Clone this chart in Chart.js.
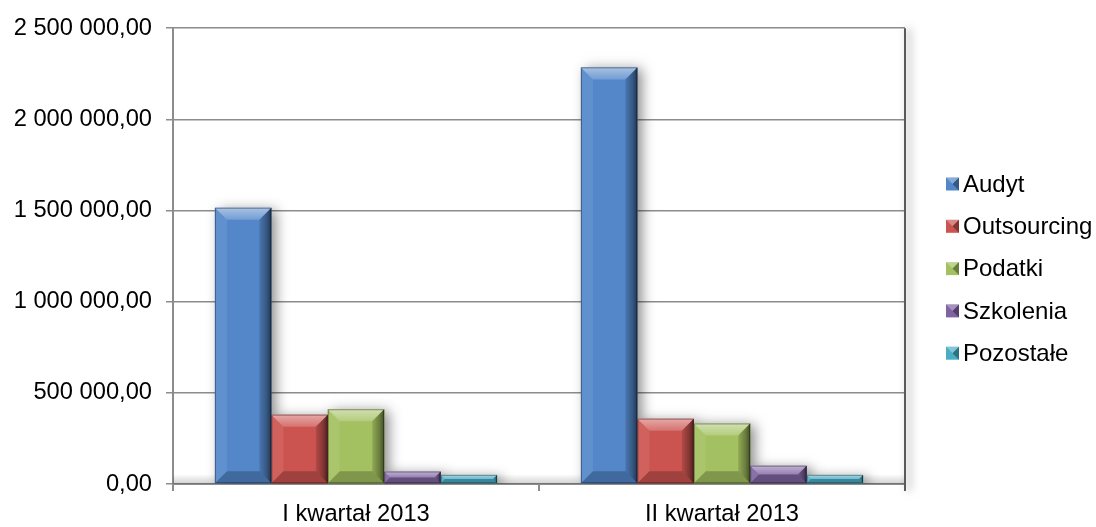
<!DOCTYPE html>
<html>
<head>
<meta charset="utf-8">
<script src="https://cdn.jsdelivr.net/npm/chart.js@4/dist/chart.umd.min.js"></script>
<style>
  html, body { margin: 0; padding: 0; background: #ffffff; }
  #wrap { width: 1096px; height: 527px; }
</style>
</head>
<body>
<div id="wrap"><canvas id="c" width="1096" height="527"></canvas></div>
<script>
// ---- data ----
const categories = ['I kwartał 2013', 'II kwartał 2013'];
const seriesNames = ['Audyt', 'Outsourcing', 'Podatki', 'Szkolenia', 'Pozostałe'];
const audyt       = [1515000, 2285000];
const outsourcing = [380000, 358000];
const podatki     = [410000, 332000];
const szkolenia   = [68000, 100000];
const pozostale   = [50000, 50000];
const yTicks      = [0, 500000, 1000000, 1500000, 2000000, 2500000];

// ---- styles ----
const seriesColors = ['#5387C9', '#CC5450', '#A3C160', '#8064A2', '#4BACC6'];
const FONT = '"Liberation Sans", Arial, sans-serif';
const FS_Y = 23.7;
const FS_X = 23.7;
const FS_LEG = 24;
const GRID = '#8c8c8c';

function formatPL(v) {
  const s = Math.round(v).toString().replace(/\B(?=(\d{3})+(?!\d))/g, ' ');
  return s + ',00';
}

const seriesData = [audyt, outsourcing, podatki, szkolenia, pozostale];

const shadowPlugin = {
  id: 'barShadow',
  beforeDatasetsDraw(chart) {
    const ctx = chart.ctx;
    const a = chart.chartArea;
    ctx.save();
    ctx.beginPath();
    ctx.rect(a.left, a.top, a.right - a.left + 20, a.bottom - a.top);
    ctx.clip();
    // floor shading
    const g = ctx.createLinearGradient(0, a.bottom - 10, 0, a.bottom);
    g.addColorStop(0, 'rgba(0,0,0,0)');
    g.addColorStop(1, 'rgba(0,0,0,0.18)');
    ctx.fillStyle = g;
    ctx.fillRect(a.left, a.bottom - 10, a.right - a.left, 10);
    chart.data.datasets.forEach((ds, di) => {
      const meta = chart.getDatasetMeta(di);
      meta.data.forEach(el => {
        const p = el.getProps(['x', 'y', 'base', 'width'], true);
        const L = p.x - p.width / 2, T = p.y, B = p.base;
        ctx.shadowColor = 'rgba(0,0,0,0.45)';
        ctx.shadowBlur = 12;
        ctx.shadowOffsetX = 5;
        ctx.shadowOffsetY = 2;
        ctx.fillStyle = ds.backgroundColor;
        ctx.fillRect(L, T, p.width, B - T);
      });
    });
    ctx.restore();
  },
  afterDatasetsDraw(chart) {
    const ctx = chart.ctx;
    ctx.save();
    chart.data.datasets.forEach((ds, di) => {
      const meta = chart.getDatasetMeta(di);
      meta.data.forEach(el => {
        const p = el.getProps(['x', 'y', 'base', 'width'], true);
        const L = p.x - p.width / 2, R = p.x + p.width / 2, T = p.y, B = p.base;
        const h = B - T;
        const b = Math.min(12, h / 2, p.width / 2);
        // top bevel (light)
        let g = ctx.createLinearGradient(0, T, 0, T + b);
        g.addColorStop(0, 'rgba(255,255,255,0.5)');
        g.addColorStop(1, 'rgba(255,255,255,0.18)');
        ctx.fillStyle = g;
        ctx.beginPath();
        ctx.moveTo(L, T); ctx.lineTo(R, T); ctx.lineTo(R - b, T + b); ctx.lineTo(L + b, T + b); ctx.closePath();
        ctx.fill();
        // left bevel (slightly light)
        ctx.fillStyle = 'rgba(255,255,255,0.08)';
        ctx.beginPath();
        ctx.moveTo(L, T); ctx.lineTo(L + b, T + b); ctx.lineTo(L + b, B - b); ctx.lineTo(L, B); ctx.closePath();
        ctx.fill();
        // right bevel (dark)
        g = ctx.createLinearGradient(R - b, 0, R, 0);
        g.addColorStop(0, 'rgba(0,0,0,0.12)');
        g.addColorStop(0.6, 'rgba(0,0,0,0.35)');
        g.addColorStop(1, 'rgba(0,0,0,0.6)');
        ctx.fillStyle = g;
        ctx.beginPath();
        ctx.moveTo(R, T); ctx.lineTo(R, B); ctx.lineTo(R - b, B - b); ctx.lineTo(R - b, T + b); ctx.closePath();
        ctx.fill();
        // bottom bevel (dark)
        ctx.fillStyle = 'rgba(0,0,0,0.22)';
        ctx.beginPath();
        ctx.moveTo(L, B); ctx.lineTo(R, B); ctx.lineTo(R - b, B - b); ctx.lineTo(L + b, B - b); ctx.closePath();
        ctx.fill();
        // thin edge
        ctx.strokeStyle = 'rgba(0,0,0,0.35)';
        ctx.lineWidth = 1;
        ctx.strokeRect(L + 0.5, T + 0.5, p.width - 1, h - 1);
      });
    });
    ctx.restore();
  },
  afterDraw(chart) {
    const ctx = chart.ctx;
    const a = chart.chartArea;
    ctx.save();
    // right wall edge with shadow
    ctx.shadowColor = 'rgba(0,0,0,0.5)';
    ctx.shadowBlur = 8;
    ctx.shadowOffsetX = 4;
    ctx.strokeStyle = '#5a5a5a';
    ctx.lineWidth = 2;
    ctx.beginPath();
    ctx.moveTo(a.right, a.top);
    ctx.lineTo(a.right, a.bottom + 7);
    ctx.stroke();
    ctx.restore();

    // legend
    ctx.save();
    ctx.font = FS_LEG + 'px ' + FONT;
    ctx.textBaseline = 'middle';
    ctx.textAlign = 'left';
    const lx = 946, ly0 = 184, step = 42.3, bs = 13;
    chart.data.datasets.forEach((ds, i) => {
      const cy = ly0 + i * step;
      const bx = lx, by = cy - bs / 2;
      ctx.fillStyle = ds.backgroundColor;
      ctx.fillRect(bx, by, bs, bs);
      ctx.fillStyle = 'rgba(255,255,255,0.3)';
      ctx.beginPath(); ctx.moveTo(bx, by); ctx.lineTo(bx + bs, by); ctx.lineTo(bx + bs / 2, by + bs / 2); ctx.closePath(); ctx.fill();
      ctx.fillStyle = 'rgba(0,0,0,0.35)';
      ctx.beginPath(); ctx.moveTo(bx + bs, by); ctx.lineTo(bx + bs, by + bs); ctx.lineTo(bx + bs / 2, by + bs / 2); ctx.closePath(); ctx.fill();
      ctx.fillStyle = '#000000';
      ctx.fillText(ds.label, 963, cy + 1);
    });
    ctx.restore();
  }
};

const chart = new Chart(document.getElementById('c'), {
  type: 'bar',
  data: {
    labels: categories,
    datasets: seriesNames.map((name, i) => ({
      label: name,
      data: seriesData[i],
      backgroundColor: seriesColors[i],
      borderWidth: 0,
      categoryPercentage: 0.771,
      barPercentage: 1.0
    }))
  },
  options: {
    responsive: false,
    devicePixelRatio: 1,
    animation: false,
    layout: { padding: { left: 0, right: 191, top: 24, bottom: 0 } },
    plugins: {
      legend: { display: false },
      tooltip: { enabled: false },
      title: { display: false }
    },
    scales: {
      x: {
        offset: true,
        grid: {
          offset: true,
          drawOnChartArea: false,
          drawTicks: true,
          tickLength: 7,
          color: GRID,
          lineWidth: 2
        },
        border: { display: true, color: GRID, width: 2 },
        ticks: { font: { family: FONT, size: FS_X }, color: '#000', padding: 9, maxRotation: 0 },
        afterFit(scale) { scale.height = 43; }
      },
      y: {
        min: 0,
        max: 2500000,
        afterBuildTicks(scale) { scale.ticks = yTicks.map(v => ({ value: v })); },
        grid: { color: GRID, lineWidth: 1.5, tickLength: 7, drawTicks: true },
        border: { display: true, color: GRID, width: 2 },
        ticks: {
          font: { family: FONT, size: FS_Y },
          color: '#000',
          padding: 14,
          callback: (v) => formatPL(v)
        },
        afterFit(scale) { scale.width = 173; }
      }
    }
  },
  plugins: [shadowPlugin]
});
</script>
</body>
</html>
